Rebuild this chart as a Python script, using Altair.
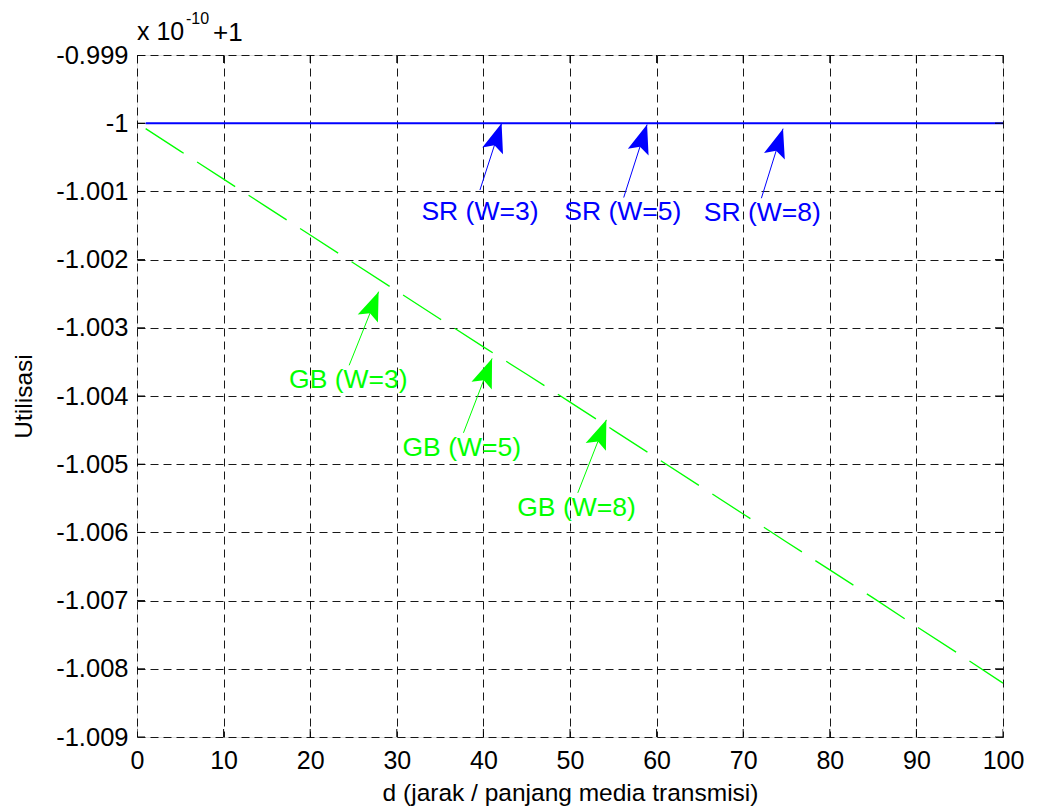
import math
import altair as alt
import pandas as pd

# ---------------- data ----------------
gb_d = [1, 5, 10, 15, 20, 25, 30, 35, 40, 45, 50, 55, 60, 65, 70, 75, 80, 85, 90, 95, 100]
gb_val = [-1.00008, -1.00041, -1.00082, -1.00123, -1.00164, -1.00205, -1.00246, -1.00287,
          -1.00328, -1.00368, -1.00409, -1.00450, -1.00491, -1.00532, -1.00573, -1.00614,
          -1.00655, -1.00696, -1.00738, -1.00779, -1.00821]
sr_d = [1, 100]
sr_val = [-1.0, -1.0]

x_ticks = [0, 10, 20, 30, 40, 50, 60, 70, 80, 90, 100]
y_ticks = [-0.999, -1.0, -1.001, -1.002, -1.003, -1.004, -1.005, -1.006, -1.007, -1.008, -1.009]

ann_text = ["SR (W=3)", "SR (W=5)", "SR (W=8)", "GB (W=3)", "GB (W=5)", "GB (W=8)"]
ann_group = ["SR", "SR", "SR", "GB", "GB", "GB"]
ann_text_x = [39.6, 56.1, 72.2, 24.4, 37.5, 50.75]
ann_text_y = [-1.00130, -1.00130, -1.00132, -1.00377, -1.00476, -1.00564]
ann_tail_x = [39.6, 56.2, 72.1, 24.5, 37.7, 50.9]
ann_tail_y = [-1.00098, -1.00109, -1.00110, -1.00355, -1.00454, -1.00542]
ann_tip_x = [42.1, 58.9, 74.6, 27.9, 41.0, 54.2]
ann_tip_y = [-1.00000, -1.00002, -1.00008, -1.00247, -1.00345, -1.00435]

# ---------------- layout ----------------
W, H = 866, 682
XMIN, XMAX = 0, 100
YMIN, YMAX = -1.009, -0.999
FONT = "Liberation Sans"
BLUE = "#0000FF"
GREEN = "#00FF00"

sx = W / (XMAX - XMIN)
sy = H / (YMAX - YMIN)
angles = []
for tx, ty, hx, hy in zip(ann_tail_x, ann_tail_y, ann_tip_x, ann_tip_y):
    dx = (hx - tx) * sx
    up = (hy - ty) * sy
    angles.append(math.degrees(math.atan2(dx, up)) % 360)

gb_df = pd.DataFrame({"x": gb_d, "y": gb_val})
sr_df = pd.DataFrame({"x": sr_d, "y": sr_val})
ann_df = pd.DataFrame({
    "label": ann_text, "group": ann_group,
    "tx": ann_text_x, "ty": ann_text_y,
    "x": ann_tail_x, "y": ann_tail_y,
    "x2": ann_tip_x, "y2": ann_tip_y,
    "angle": angles,
})

xscale = alt.Scale(domain=[XMIN, XMAX], nice=False, zero=False)
yscale = alt.Scale(domain=[YMIN, YMAX], nice=False, zero=False)

xaxis = alt.Axis(
    values=x_ticks, format="d", grid=True, gridColor="black", gridDash=[8, 5],
    gridWidth=1, gridOpacity=0.9, ticks=False, domain=False,
    labelFont=FONT, labelFontSize=25, labelColor="black", labelPadding=11,
    labelFlush=False,
    title="d (jarak / panjang media transmisi)", titleFont=FONT, titleFontSize=24.5,
    titleFontWeight="normal", titleColor="black", titleX=433, titleY=63,
    titleAnchor="middle", titleAlign="center", titleBaseline="alphabetic",
)
yaxis = alt.Axis(
    values=y_ticks, grid=True, gridColor="black", gridDash=[8, 5],
    gridWidth=1, gridOpacity=0.9, ticks=False, domain=False,
    labelExpr="abs(datum.value + 1) < 1e-9 ? '-1' : '-' + format(-datum.value, '.3f')",
    labelFont=FONT, labelFontSize=25.5, labelColor="black", labelPadding=9,
    labelFlush=False,
    title="Utilisasi", titleFont=FONT, titleFontSize=24.5, titleFontWeight="normal",
    titleColor="black", titleX=-113, titleY=341, titleAngle=270,
    titleAlign="center", titleBaseline="middle",
)

X = alt.X("x:Q", scale=xscale, axis=xaxis)
Y = alt.Y("y:Q", scale=yscale, axis=yaxis)
ann_color = alt.Color("group:N", scale=alt.Scale(domain=["SR", "GB"], range=[BLUE, GREEN]), legend=None)

green_line = alt.Chart(gb_df).mark_line(color=GREEN, strokeWidth=1.3, strokeDash=[45.3, 16]).encode(x=X, y=Y)
blue_line = alt.Chart(sr_df).mark_line(color=BLUE, strokeWidth=2).encode(x=X, y=Y)

# inside ticks (MATLAB style), clipped to the plot box
ytick_df = pd.DataFrame({"x": [XMIN] * len(y_ticks) + [XMAX] * len(y_ticks), "y": y_ticks + y_ticks})
xtick_df = pd.DataFrame({"x": x_ticks + x_ticks, "y": [YMIN] * len(x_ticks) + [YMAX] * len(x_ticks)})
yticks = alt.Chart(ytick_df).mark_tick(orient="horizontal", size=16, thickness=1, color="black", clip=True, opacity=1).encode(x=X, y=Y)
xticks = alt.Chart(xtick_df).mark_tick(orient="vertical", size=16, thickness=1, color="black", clip=True, opacity=1).encode(x=X, y=Y)

ann_base = alt.Chart(ann_df)
ann_rules = ann_base.mark_rule(strokeWidth=1).encode(
    x=X, y=Y, x2="x2:Q", y2="y2:Q", color=ann_color)
ann_heads = ann_base.mark_point(
    shape="M0,0 L-0.75,2 L0,1.6 L0.75,2 Z", size=841, filled=True, opacity=1, strokeWidth=0
).encode(
    x=alt.X("x2:Q", scale=xscale, axis=xaxis),
    y=alt.Y("y2:Q", scale=yscale, axis=yaxis),
    angle=alt.Angle("angle:Q", scale=None),
    color=ann_color)
ann_labels = ann_base.mark_text(font=FONT, fontSize=26.5, align="center", baseline="middle").encode(
    x=alt.X("tx:Q", scale=xscale, axis=xaxis),
    y=alt.Y("ty:Q", scale=yscale, axis=yaxis),
    text="label:N", color=ann_color)

# exponent header "x 10^-10 +1"
hdr_df = pd.DataFrame({"t": ["x 10"]})
hdr1 = alt.Chart(hdr_df).mark_text(font=FONT, fontSize=25, align="left", baseline="alphabetic", color="black").encode(
    x=alt.value(0), y=alt.value(-15), text=alt.value("x 10"))
hdr2 = alt.Chart(hdr_df).mark_text(font=FONT, fontSize=16, align="left", baseline="alphabetic", color="black").encode(
    x=alt.value(49), y=alt.value(-31), text=alt.value("-10"))
hdr3 = alt.Chart(hdr_df).mark_text(font=FONT, fontSize=26, align="left", baseline="alphabetic", color="black").encode(
    x=alt.value(76), y=alt.value(-14), text=alt.value("+1"))

chart = alt.layer(
    green_line, blue_line, yticks, xticks, ann_rules, ann_heads, ann_labels, hdr1, hdr2, hdr3
).properties(
    width=W, height=H,
    autosize=alt.AutoSizeParams(type="none"),
    padding={"left": 137, "top": 55, "right": 34, "bottom": 72},
    background="white",
).configure_view(stroke="black", strokeWidth=1.2).configure(font=FONT)

chart.save("out.html", embed_options={"renderer": "svg", "actions": False})
